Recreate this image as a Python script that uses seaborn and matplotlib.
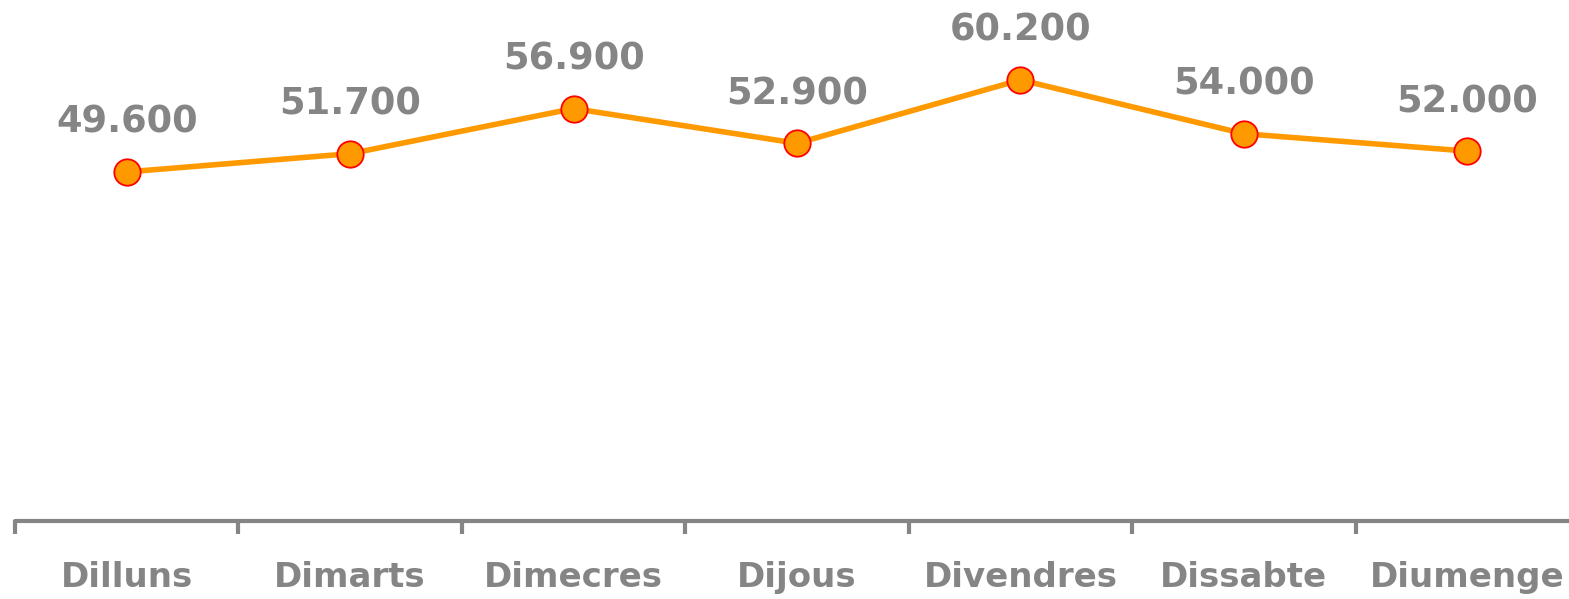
import pandas as pd
import seaborn as sns
import matplotlib.pyplot as plt

# DATA
days = ["Dilluns", "Dimarts", "Dimecres", "Dijous", "Divendres", "Dissabte", "Diumenge"]
values = [49600, 51700, 56900, 52900, 60200, 54000, 52000]

df = pd.DataFrame({"Dia": days, "Valor": values})

# STYLE
sns.set_style("white")
plt.rcParams["font.family"] = ["DejaVu Sans"]
grey = "#858585"

fig = plt.figure(figsize=(15.69, 5.99), dpi=100)
ax = fig.add_axes([15 / 1569, 78 / 599, 1564 / 1569, 521 / 599])

sns.lineplot(x="Dia", y="Valor", data=df, color="#FF9900", linewidth=4,
             marker="o", markersize=19, markerfacecolor="#FF9900",
             markeredgecolor="red", markeredgewidth=1.3, ax=ax, clip_on=False)

ax.set_xlim(-0.5, 6.5)
ax.set_ylim(9400, 69400)

# LABELS ABOVE POINTS
for i, v in enumerate(values):
    ax.annotate(f"{v:,}".replace(",", "."), (i, v), xytext=(0, 39),
                textcoords="offset pixels", ha="center", va="baseline",
                fontsize=26.5, fontweight="bold", color=grey)

# AXES
for s in ["top", "right", "left"]:
    ax.spines[s].set_visible(False)
ax.spines["bottom"].set_color(grey)
ax.spines["bottom"].set_linewidth(3)
ax.spines["bottom"].set_capstyle("round")
ax.set_yticks([])
ax.set_xticks([i - 0.5 for i in range(8)])
ax.set_xticklabels([])
ax.set_xticks(range(len(days)), minor=True)
ax.set_xticklabels(days, minor=True, fontsize=24.5, fontweight="bold", color=grey)
ax.tick_params(axis="x", which="major", direction="out", length=9, width=3,
               color=grey, bottom=True)
ax.tick_params(axis="x", which="minor", length=0, pad=29)
ax.set_xlabel("")
ax.set_ylabel("")

plt.savefig("out.png", dpi=100)
